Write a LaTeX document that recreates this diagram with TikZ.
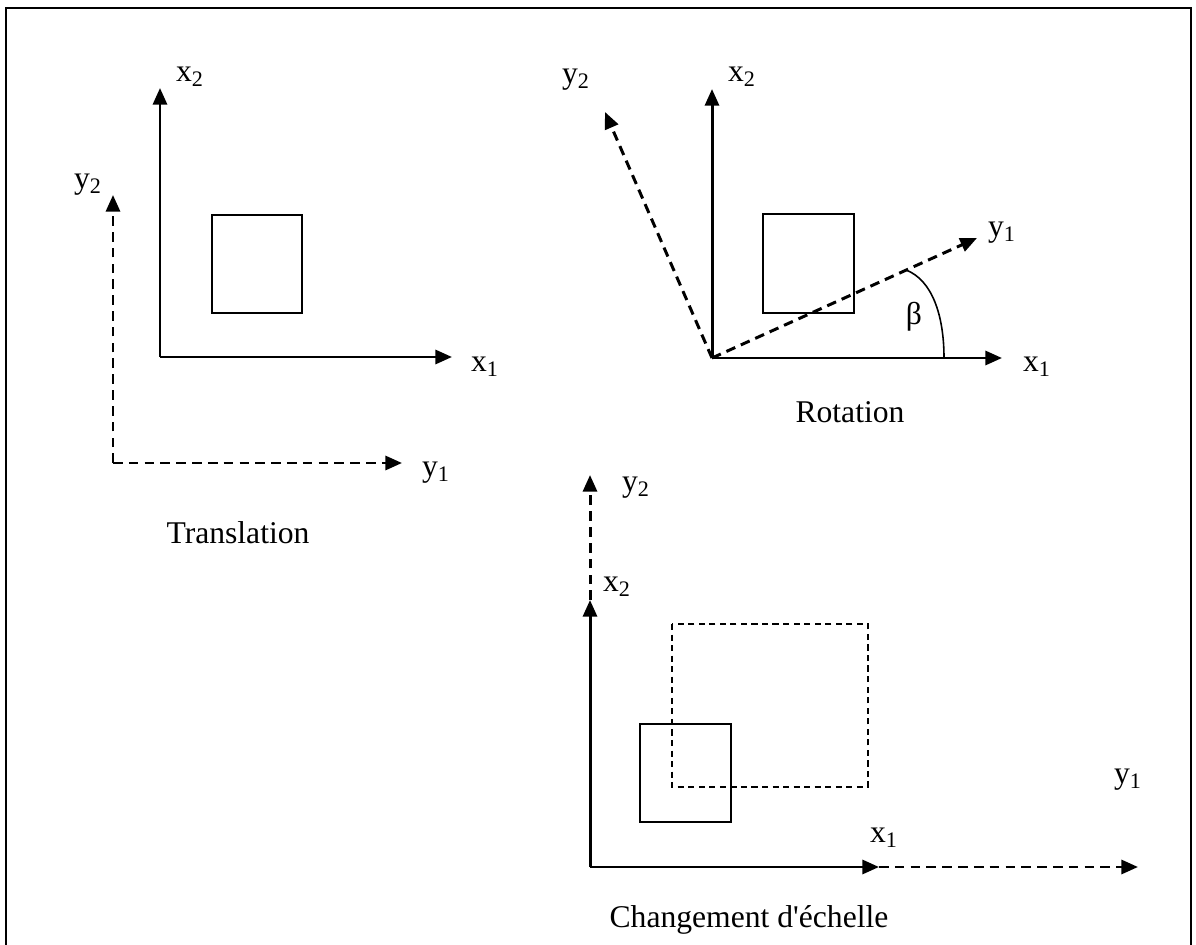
\documentclass[tikz,border=0pt]{standalone}
\usepackage{fontspec}
\setmainfont{Liberation Serif}
\usepackage{tikz}
\usetikzlibrary{arrows.meta}

\begin{document}
\begin{tikzpicture}[
  x=0.02cm,
  y=-0.02cm,
  axis/.style={-{Triangle[length=9.5pt,width=8pt]}, line width=1.7pt},
  daxis/.style={axis, dash pattern=on 5.5pt off 3.5pt},
  figbox/.style={draw, line width=0.9pt},
  dfigbox/.style={figbox, dash pattern=on 3.5pt off 2.5pt},
  lbl/.style={font=\fontsize{18}{21}\selectfont, inner sep=0pt}
]
  \useasboundingbox (0,0) rectangle (1196,945);
  \draw[line width=1.3pt] (6,945) -- (6,8) -- (1191,8) -- (1191,945);

  \coordinate (tO) at (160,357);
  \coordinate (tX1) at (452,357);
  \coordinate (tX2) at (160,88);
  \coordinate (tP) at (113,463);
  \coordinate (tY1) at (402,463);
  \coordinate (tY2) at (113,195);
  \draw[axis] (tO) -- (tX1);
  \draw[axis] (tO) -- (tX2);
  \draw[daxis] (tP) -- (tY1);
  \draw[daxis] (tP) -- (tY2);
  \draw[figbox] (212,215) rectangle (302,313);
  \node[lbl] (tx1) at (485,367) {x\textsubscript{1}};
  \node[lbl] (tx2) at (190,77) {x\textsubscript{2}};
  \node[lbl] (ty1) at (436,473) {y\textsubscript{1}};
  \node[lbl] (ty2) at (88,185) {y\textsubscript{2}};
  \node[lbl] (trans) at (238,533) {Translation};

  \coordinate (rO) at (712,358);
  \coordinate (rX1) at (1002,358);
  \coordinate (rX2) at (712,89);
  \coordinate (rY1) at (977,238);
  \coordinate (rY2) at (605,112);
  \draw[axis] (rO) -- (rX1);
  \draw[axis] (rO) -- (rX2);
  \draw[daxis] (rO) -- (rY1);
  \draw[daxis] (rO) -- (rY2);
  \draw[figbox] (763,214) rectangle (854,313);
  \draw[line width=0.9pt] (906,270) .. controls (932,280) and (944,315) .. (944,358);
  \node[lbl] (beta) at (914,317) {β};
  \node[lbl] (rx1) at (1037,367) {x\textsubscript{1}};
  \node[lbl] (rx2) at (742,77) {x\textsubscript{2}};
  \node[lbl] (ry1) at (1002,233) {y\textsubscript{1}};
  \node[lbl] (ry2) at (576,80) {y\textsubscript{2}};
  \node[lbl] (rot) at (850,412) {Rotation};

  \coordinate (sO) at (590,867);
  \coordinate (sX1) at (879,867);
  \coordinate (sX2) at (590,600);
  \coordinate (sY1) at (1138,867);
  \coordinate (sY2) at (590,475);
  \draw[axis] (sO) -- (sX1);
  \draw[axis] (sO) -- (sX2);
  \draw[daxis] (sX1) -- (sY1);
  \draw[daxis] (sX2) -- (sY2);
  \draw[figbox] (640,724) rectangle (731,822);
  \draw[dfigbox] (672,624) rectangle (868,787);
  \node[lbl] (sx1) at (884,838) {x\textsubscript{1}};
  \node[lbl] (sx2) at (617,587) {x\textsubscript{2}};
  \node[lbl] (sy1) at (1128,780) {y\textsubscript{1}};
  \node[lbl] (sy2) at (636,488) {y\textsubscript{2}};
  \node[lbl] (scale) at (749,920) {Changement d\textquotesingle échelle};
\end{tikzpicture}
\end{document}
